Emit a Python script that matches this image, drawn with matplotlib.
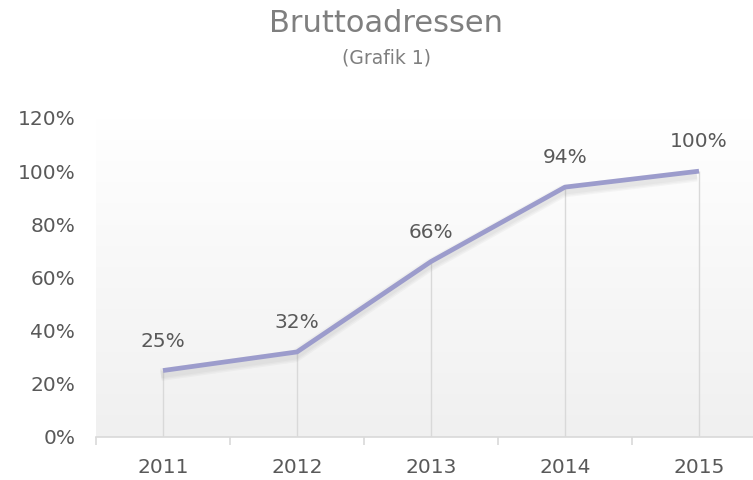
import matplotlib
matplotlib.use("Agg")
import matplotlib.pyplot as plt
import matplotlib.patheffects as pe
import numpy as np

# Data
years = ["2011", "2012", "2013", "2014", "2015"]
values = [0.25, 0.32, 0.66, 0.94, 1.00]
labels = ["25%", "32%", "66%", "94%", "100%"]
y_ticks = [0, 0.2, 0.4, 0.6, 0.8, 1.0, 1.2]

text_color = "#595959"
line_color = "#9c9ccc"
grid_color = "#d9d9d9"

plt.rcParams["font.family"] = ["DejaVu Sans"]

fig = plt.figure(figsize=(7.53, 4.8), dpi=100)
ax = fig.add_axes([96 / 753, 43 / 480, 657 / 753, 319 / 480])

x = np.arange(len(years))

# Background gradient (white at top to light gray at bottom)
grad = np.linspace(1.0, 0.0, 256).reshape(-1, 1)
bg_cmap = matplotlib.colors.LinearSegmentedColormap.from_list("bg", ["#f0f0f0", "#ffffff"])
ax.imshow(grad, cmap=bg_cmap, extent=[-0.5, 4.5, 0, 1.2], aspect="auto", zorder=0)

# Drop lines
ax.vlines(x, 0, values, colors=grid_color, lw=1, zorder=1)

# Line with soft shadow
shadow = [
    pe.SimpleLineShadow(offset=(-1.5, -3), shadow_color="#7f7f7f", alpha=0.06, linewidth=w)
    for w in (9, 7, 5)
]
ax.plot(
    x, values, color=line_color, lw=3.4, zorder=3, solid_capstyle="butt",
    path_effects=shadow + [pe.Normal()],
)

for xi, v, lab in zip(x, values, labels):
    ax.annotate(lab, (xi, v), xytext=(0, 21), textcoords="offset points",
                ha="center", va="center", fontsize=14.5, color=text_color)

# Axes styling
for s in ["top", "right", "left"]:
    ax.spines[s].set_visible(False)
ax.spines["bottom"].set_color(grid_color)
ax.spines["bottom"].set_linewidth(1.2)

ax.set_yticks(y_ticks)
ax.set_yticklabels([f"{int(round(t * 100))}%" for t in y_ticks])
ax.tick_params(axis="y", length=0, pad=15, labelsize=14.5, labelcolor=text_color)

ax.set_xticks(x)
ax.set_xticklabels(years)
ax.tick_params(axis="x", length=0, pad=15, labelsize=14.5, labelcolor=text_color)
ax.set_xticks(np.arange(-0.5, 5.0, 1.0), minor=True)
ax.tick_params(axis="x", which="minor", length=6, color=grid_color, width=1.2)

# limits last: set_xticks widens the view
ax.set_xlim(-0.5, -0.5 + 657 / 134)
ax.set_ylim(0, 1.2)

fig.text(0.513, 0.951, "Bruttoadressen", ha="center", va="center",
         fontsize=22, color="#7f7f7f")
fig.text(0.513, 0.880, "(Grafik 1)", ha="center", va="center",
         fontsize=13.5, color="#7f7f7f")

fig.savefig("out.png", dpi=100)
